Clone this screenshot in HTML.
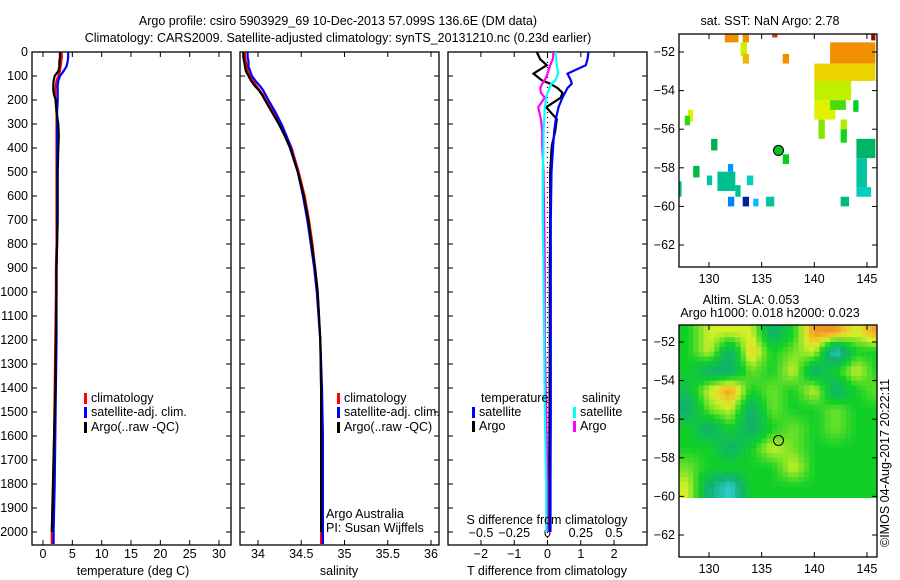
<!DOCTYPE html>
<html><head><meta charset="utf-8">
<style>
html,body{margin:0;padding:0;background:#fff;}
svg{display:block;font-family:"Liberation Sans",sans-serif;}
text{fill:#000;font-size:12.5px;}
</style></head>
<body>
<svg id="chart" width="900" height="580" viewBox="0 0 900 580" xmlns="http://www.w3.org/2000/svg">
<defs>
<clipPath id="cp1"><rect x="32" y="52" width="199" height="493"/></clipPath>
<clipPath id="cp2"><rect x="240" y="52" width="199" height="493"/></clipPath>
<clipPath id="cp3"><rect x="448" y="52" width="199" height="493"/></clipPath>
<clipPath id="cpm1"><rect x="679" y="34" width="198" height="233"/></clipPath>
<clipPath id="cpm2"><rect x="679" y="325" width="198" height="173"/></clipPath>
</defs>
<text x="338" y="25" text-anchor="middle" font-size="13">Argo profile: csiro 5903929_69 10-Dec-2013 57.099S 136.6E (DM data)</text>
<text x="338" y="42" text-anchor="middle" font-size="13">Climatology: CARS2009. Satellite-adjusted climatology: synTS_20131210.nc (0.23d earlier)</text>
<g id="g"></g>
</svg>
<script>
// ---- profile data ----
const depths = [0,20,40,60,80,100,120,140,160,180,200,250,300,350,400,500,600,700,800,900,1000,1200,1400,1600,1800,2000,2050];
const tempClim = [3.2,3.2,3.1,3.0,2.9,2.6,2.3,2.2,2.1,2.1,2.1,2.3,2.3,2.3,2.3,2.3,2.3,2.3,2.3,2.2,2.2,2.1,2.0,1.9,1.7,1.5,1.5];
const tempSat = [4.3,4.3,4.2,4.0,3.5,2.9,2.6,2.5,2.5,2.5,2.5,2.4,2.4,2.4,2.4,2.4,2.4,2.4,2.4,2.3,2.3,2.3,2.2,2.1,2.0,1.8,1.8];
const tempArgo = [2.9,2.9,2.8,2.8,2.6,2.0,1.8,1.75,1.75,1.9,2.2,2.3,2.6,2.7,2.6,2.5,2.5,2.5,2.4,2.3,2.3,2.2,2.1,1.9,1.7,1.5,null];
const salClim = [33.85,33.85,33.86,33.87,33.88,33.91,33.94,33.98,34.02,34.06,34.09,34.18,34.27,34.33,34.39,34.47,34.54,34.59,34.63,34.66,34.69,34.72,34.73,34.73,34.73,34.73,34.73];
const salSat = [33.88,33.88,33.89,33.89,33.91,33.93,33.97,34.02,34.06,34.09,34.12,34.20,34.27,34.33,34.38,34.46,34.52,34.57,34.61,34.65,34.68,34.72,34.74,34.75,34.75,34.75,34.75];
const salArgo = [33.83,33.83,33.84,33.85,33.86,33.89,33.92,33.96,34.01,34.05,34.08,34.16,34.24,34.31,34.37,34.46,34.53,34.58,34.62,34.66,34.69,34.72,34.73,34.73,34.73,34.73,null];
const diffDepths = [0,30,55,90,118,132,150,170,190,230,280,330,390,500,700,900,1200,1500,1800,2000];
const tDiffArgo = [-0.32,-0.22,-0.02,-0.42,-0.17,0.08,0.3,0.45,0.4,-0.04,0.28,0.23,0.13,0.08,0.08,0.07,0.07,0.06,0.05,0.05];
const tDiffSat = [1.23,1.2,1.15,0.6,0.7,0.73,0.6,0.53,0.45,0.33,0.25,0.2,0.17,0.12,0.1,0.1,0.1,0.1,0.09,0.09];
const sDiffArgo = [0.045,0.04,0.02,0.0,-0.02,-0.04,-0.055,-0.05,-0.02,-0.07,-0.05,-0.04,-0.04,-0.03,-0.025,-0.02,-0.02,-0.01,0,0];
const sDiffSat = [0.06,0.065,0.07,0.08,0.06,0.03,0.015,0.0,-0.01,-0.02,-0.025,-0.03,-0.03,-0.035,-0.035,-0.03,-0.025,-0.02,-0.01,-0.01];
const depthTicks = [0,100,200,300,400,500,600,700,800,900,1000,1100,1200,1300,1400,1500,1600,1700,1800,1900,2000];
const tempTicks = [0,5,10,15,20,25,30];
const salTicks = [34,34.5,35,35.5,36];
const tDiffTicks = [-2,-1,0,1,2];
const sDiffTicks = [-0.5,-0.25,0,0.25,0.5];
// ---- map data: [lon0, lon1, latTop, latBottom, value] ----
const sstCells = [
[131.5,132.8,-51.1,-51.5,5],[133.2,133.8,-51.1,-51.5,5],[133.0,133.6,-51.5,-52.2,3.8],[133.2,133.8,-52.1,-52.6,4.6],
[136.0,136.5,-51.1,-51.25,5.8],[137.0,137.6,-52.1,-52.6,5],[141.5,145.8,-51.5,-52.6,5],[140.0,145.8,-52.6,-53.5,4.3],
[140.0,143.5,-53.5,-54.5,3.7],[140.0,142.0,-54.5,-55.5,4],[141.5,143.0,-54.5,-55.0,3.1],[143.7,144.2,-54.5,-55.1,2.8],
[140.4,141.0,-55.5,-56.5,3.4],[142.5,143.1,-55.5,-56.0,3.6],[142.5,143.1,-56.0,-56.7,2.9],[145.4,145.8,-51.1,-51.4,6.5],
[144.0,145.8,-56.5,-57.5,2.3],[144.0,145.0,-57.5,-59.0,2.0],[144.0,145.4,-59.0,-59.5,1.8],[128.0,128.5,-55.0,-55.6,4],
[127.7,128.2,-55.3,-55.8,3],[130.2,130.8,-56.5,-57.1,2.4],[128.5,129.1,-57.9,-58.5,2.5],[129.8,130.3,-58.4,-58.9,2.0],
[130.8,132.5,-58.2,-59.2,2.1],[132.5,133.0,-58.9,-59.5,2.1],[131.8,132.3,-57.8,-58.2,1.3],[133.6,134.2,-58.4,-58.9,1.8],
[131.8,132.4,-59.5,-60.0,1.2],[133.2,133.8,-59.5,-60.0,0.5],[134.2,134.7,-59.6,-60.0,1.5],[135.4,136.2,-59.5,-60.0,2.0],
[137.0,137.6,-57.3,-57.8,2.8],[142.5,143.3,-59.5,-60.0,2.2],[127.2,127.4,-58.7,-59.5,2.1]];
const slaLon0 = [127,129,131,133,135,137,139,141,143,145];
const slaLat0 = [-51,-52,-53,-54,-55,-56,-57,-58,-59];
const slaGrid = [
[2,3,3,3,1,2,4,4,3,4],
[2,3,1,3.5,2,2.5,3,0,2,2],
[2,1,1,2.5,2,3,1,2,3,2],
[1.5,3,4,2,2.5,2,3,1,2,2.5],
[1,2.5,3,1,2.5,2,2,2.5,2,2],
[2,1,2,1,2,2.5,2,2.5,2,2],
[2,2,1,2,3,2.5,2,2,2,2],
[2.5,2,2,2,2,3,2,2,2,2],
[3,1,0,2,2,2,2,2,2,2]];
const argoLon = 136.6, argoLat = -57.1;

const NS='http://www.w3.org/2000/svg';
const G=document.getElementById('g');
function mk(tag,attrs,parent){const e=document.createElementNS(NS,tag);for(const k in attrs)e.setAttribute(k,attrs[k]);(parent||G).appendChild(e);return e;}
function txt(s,x,y,anchor,parent){const t=mk('text',{x:x,y:y,'text-anchor':anchor||'start'},parent);t.textContent=s;return t;}

const yD = d => 52 + d*0.24;
const xT = t => 43 + t*5.867;
const xS = s => 258 + (s-34)*86.5;
const xTd = v => 547.5 + v*33.3;
const xSd = v => 547.5 + v*133;
const PB = 545;

function panelFrame(x0, name){
  const r = mk('rect',{x:x0,y:52,width:199,height:PB-52,fill:'none',stroke:'#000','stroke-width':1.3});
  
  
  depthTicks.forEach(d=>{
    mk('line',{x1:x0,x2:x0+5,y1:yD(d),y2:yD(d),stroke:'#000'});
    mk('line',{x1:x0+199,x2:x0+194,y1:yD(d),y2:yD(d),stroke:'#000'});
  });
}
function xTicks(vals, fx, labelY, top, bottom){
  vals.forEach(v=>{
    const x=fx(v);
    if(top) mk('line',{x1:x,x2:x,y1:52,y2:57,stroke:'#000'});
    if(bottom) mk('line',{x1:x,x2:x,y1:PB,y2:PB-5,stroke:'#000'});
    if(labelY){const t=txt(String(v).replace('-','\u2212'),x,labelY,'middle');
      
      }
  });
}
function line(xs, ds, fx, color, name, clip){
  let p='';let pen=false;
  xs.forEach((v,i)=>{ if(v===null){pen=false;return;} p+=(pen?'L':'M')+fx(v).toFixed(1)+','+yD(ds[i]).toFixed(1); pen=true;});
  const e=mk('path',{d:p,fill:'none',stroke:color,'stroke-width':2.2,'clip-path':'url(#'+clip+')'});
  
  
}
function legend(x,y,color,label){
  mk('rect',{x:x,y:y-9,width:3,height:11,fill:color});
  const t=txt(label,x+7,y);
  
  
}

depthTicks.forEach(d=>{const t=txt(String(d),28,yD(d)+4,'end');
  
  });

panelFrame(32,'temperature-panel');
xTicks(tempTicks,xT,558,true,true);
line(tempClim,depths,xT,'#f00','temp-climatology-line','cp1');
line(tempSat,depths,xT,'#00f','temp-satellite-line','cp1');
line(tempArgo,depths,xT,'#000','temp-argo-line','cp1');
let t1=txt('temperature (deg C)',133,575,'middle');


legend(84,402,'#f00','climatology');legend(84,416,'#00f','satellite-adj. clim.');legend(84,431,'#000','Argo(..raw -QC)');

panelFrame(240,'salinity-panel');
xTicks(salTicks,xS,558,true,true);
line(salClim,depths,xS,'#f00','sal-climatology-line','cp2');
line(salSat,depths,xS,'#00f','sal-satellite-line','cp2');
line(salArgo,depths,xS,'#000','sal-argo-line','cp2');
let t2=txt('salinity',339,575,'middle');


legend(337,402,'#f00','climatology');legend(337,416,'#00f','satellite-adj. clim.');legend(337,431,'#000','Argo(..raw -QC)');
let pa=txt('Argo Australia',326,518);


let pi=txt('PI: Susan Wijffels',326,532);



panelFrame(448,'difference-panel');
xTicks(tDiffTicks,xTd,558,true,false);
xTicks(sDiffTicks,xSd,537,false,true);
mk('line',{x1:547.5,x2:547.5,y1:52,y2:PB,stroke:'#000','stroke-dasharray':'1,4','stroke-width':1.2});
line(tDiffArgo,diffDepths,xTd,'#000','tdiff-argo-line','cp3');
line(tDiffSat,diffDepths,xTd,'#00f','tdiff-satellite-line','cp3');
line(sDiffArgo,diffDepths,xSd,'#f0f','sdiff-argo-line','cp3');
line(sDiffSat,diffDepths,xSd,'#0ff','sdiff-satellite-line','cp3');
let t3=txt('T difference from climatology',547,575,'middle');


let t4=txt('S difference from climatology',547,524,'middle');


let lt=txt('temperature',481,402);


let ls=txt('salinity',582,402);


legend(472,416,'#00f','satellite');legend(472,430,'#000','Argo');
legend(573,416,'#0ff','satellite');legend(573,430,'#f0f','Argo');

// ---- maps ----
const lonX = lon => 709 + (lon-130)*10.53;
const latY1 = lat => 52 + (-52-lat)*19.3;
const latY2 = lat => 342 + (-52-lat)*19.3;
function interp(stops,v){
  if(v<=stops[0][0])return 'rgb('+stops[0][1].join(',')+')';
  for(let i=1;i<stops.length;i++){if(v<=stops[i][0]){const a=stops[i-1],b=stops[i];const f=(v-a[0])/(b[0]-a[0]);
    return 'rgb('+a[1].map((c,j)=>Math.round(c+(b[1][j]-c)*f)).join(',')+')';}}
  return 'rgb('+stops[stops.length-1][1].join(',')+')';
}
const sstStops=[[0.5,[0,32,160]],[1.2,[0,128,255]],[1.5,[0,192,255]],[1.8,[0,208,192]],[2.1,[0,192,144]],[2.4,[0,176,80]],[2.8,[0,208,32]],[3.2,[96,224,0]],[3.7,[192,240,0]],[4.0,[224,240,0]],[4.5,[240,192,0]],[5.0,[240,144,0]],[6.0,[192,48,0]],[6.5,[160,0,0]]];
const slaStops=[[0,[48,208,208]],[1,[16,176,112]],[1.5,[16,192,80]],[2,[16,208,40]],[2.5,[110,225,40]],[3,[210,240,40]],[3.5,[240,200,40]],[4,[240,150,40]]];

function mapFrame(y0,h,latY,name){
  const r=mk('rect',{x:679,y:y0,width:198,height:h,fill:'none',stroke:'#000','stroke-width':1.3});
  
  
  [-52,-54,-56,-58,-60,-62].forEach(l=>{const y=latY(l);
    mk('line',{x1:679,x2:684,y1:y,y2:y,stroke:'#000'});mk('line',{x1:877,x2:872,y1:y,y2:y,stroke:'#000'});
    const t=txt('\u2212'+(-l),675,y+4,'end');
    
    });
  [130,135,140,145].forEach(l=>{const x=lonX(l);
    mk('line',{x1:x,x2:x,y1:y0,y2:y0+5,stroke:'#000'});mk('line',{x1:x,x2:x,y1:y0+h,y2:y0+h-5,stroke:'#000'});
    const t=txt(String(l),x,y0+h+16,'middle');
    
    });
}
const gm1=mk('g',{'clip-path':'url(#cpm1)'});
sstCells.forEach(c=>{
  const r=mk('rect',{x:lonX(c[0]),y:latY1(c[2]),width:lonX(c[1])-lonX(c[0]),height:latY1(c[3])-latY1(c[2]),fill:interp(sstStops,c[4])},gm1);
  
  
});
mapFrame(34,233,latY1,'sst-map');
const m1=mk('circle',{cx:lonX(argoLon),cy:latY1(argoLat),r:5,fill:'#10c020',stroke:'#000','stroke-width':1});


let st=txt('sat. SST: NaN Argo: 2.78',770,25,'middle');



// SLA map: grid values bilinearly shaded at fine resolution for display
const gm2=mk('g',{'clip-path':'url(#cpm2)'});
function slaAt(lon,lat){
  let fx=(lon-(slaLon0[0]+1))/2, fy=((slaLat0[0]-0.5)-lat)/1;
  const nx=slaLon0.length, ny=slaLat0.length;
  fx=Math.max(0,Math.min(nx-1,fx)); fy=Math.max(0,Math.min(ny-1,fy));
  const i0=Math.floor(fy), j0=Math.floor(fx), i1=Math.min(ny-1,i0+1), j1=Math.min(nx-1,j0+1);
  const ty=fy-i0, tx=fx-j0;
  const a=slaGrid[i0][j0]*(1-tx)+slaGrid[i0][j1]*tx;
  const b=slaGrid[i1][j0]*(1-tx)+slaGrid[i1][j1]*tx;
  return a*(1-ty)+b*ty;
}
for(let lat=-51; lat>-60.001; lat-=0.25){
  for(let lon=127; lon<146.5; lon+=0.5){
    const x0=lonX(lon), y0=latY2(lat);
    const r=mk('rect',{x:x0.toFixed(1),y:y0.toFixed(1),width:(lonX(lon+0.5)-x0+0.6).toFixed(1),height:(latY2(lat-0.25)-y0+0.6).toFixed(1),fill:interp(slaStops,slaAt(lon+0.25,lat-0.125))},gm2);
    
    
  }
}
mapFrame(325,232,latY2,'sla-map');
const m2=mk('circle',{cx:lonX(argoLon),cy:latY2(argoLat),r:5,fill:'none',stroke:'#000','stroke-width':1});


let s1=txt('Altim. SLA: 0.053',751,304,'middle');


let s2=txt('Argo h1000: 0.018 h2000: 0.023',770,317,'middle');


let cr=txt('\u00a9IMOS 04-Aug-2017 20:22:11',0,0,'start');
cr.setAttribute('transform','translate(889,547) rotate(-90)');


</script>
</body></html>
